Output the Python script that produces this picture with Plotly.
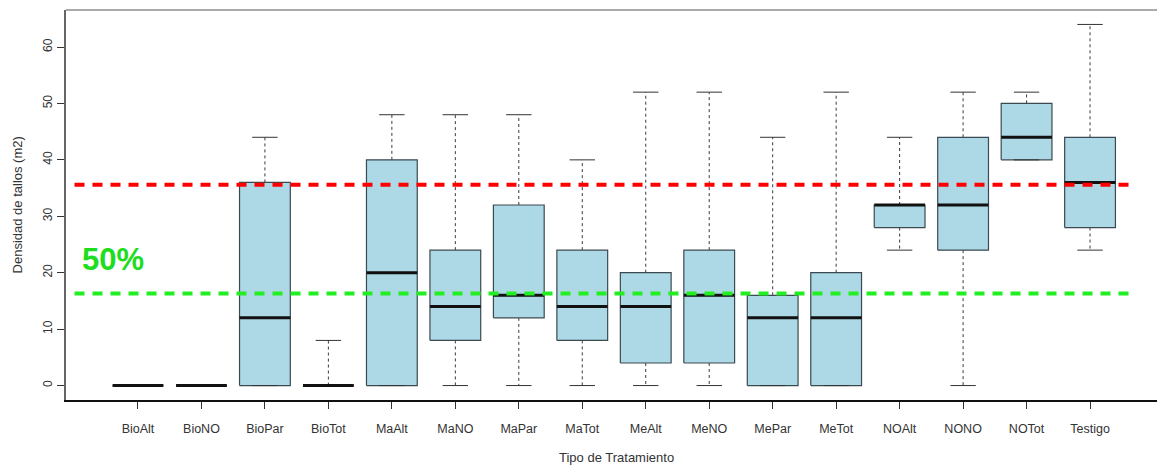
import plotly.graph_objects as go

# Treatments and their box-plot statistics (stems per m2)
categories = ["BioAlt", "BioNO", "BioPar", "BioTot", "MaAlt", "MaNO", "MaPar", "MaTot",
              "MeAlt", "MeNO", "MePar", "MeTot", "NOAlt", "NONO", "NOTot", "Testigo"]
whisker_low = [0, 0, 0, 0, 0, 0, 0, 0, 0, 0, 0, 0, 24, 0, 40, 24]
q1 = [0, 0, 0, 0, 0, 8, 12, 8, 4, 4, 0, 0, 28, 24, 40, 28]
median = [0, 0, 12, 0, 20, 14, 16, 14, 14, 16, 12, 12, 32, 32, 44, 36]
q3 = [0, 0, 36, 0, 40, 24, 32, 24, 20, 24, 16, 20, 32, 44, 50, 44]
whisker_high = [0, 0, 44, 8, 48, 48, 48, 40, 52, 52, 44, 52, 44, 52, 52, 64]

# Reference levels drawn across the chart
upper_level = 35.6
lower_level = 16.3
level_span = [0.0, 16.64]
label_text = "50%"
label_pos = (0.61, 22.3)

y_ticks = [0, 10, 20, 30, 40, 50, 60]

positions = list(range(1, len(categories) + 1))
half_box = 0.4
half_cap = 0.2

FONT = "Liberation Sans, Arial, Helvetica, sans-serif"

box_x, box_y = [], []
wh_x, wh_y = [], []
cap_x, cap_y = [], []
med_x, med_y = [], []
for p, lo, a, m, b, hi in zip(positions, whisker_low, q1, median, q3, whisker_high):
    box_x += [p - half_box, p + half_box, p + half_box, p - half_box, p - half_box, None]
    box_y += [a, a, b, b, a, None]
    if hi > b:
        wh_x += [p, p, None]
        wh_y += [b, hi, None]
    if lo < a:
        wh_x += [p, p, None]
        wh_y += [a, lo, None]
    cap_x += [p - half_cap, p + half_cap, None, p - half_cap, p + half_cap, None]
    cap_y += [hi, hi, None, lo, lo, None]
    med_x += [p - half_box, p + half_box, None]
    med_y += [m, m, None]

fig = go.Figure()
fig.add_trace(go.Scatter(x=wh_x, y=wh_y, mode="lines",
                         line=dict(color="#3a3a3a", width=1, dash="3px,3px"),
                         hoverinfo="skip", showlegend=False))
fig.add_trace(go.Scatter(x=box_x, y=box_y, mode="lines", fill="toself",
                         fillcolor="#ADD8E6", line=dict(color="#3b4a50", width=1.2),
                         hoverinfo="skip", showlegend=False))
fig.add_trace(go.Scatter(x=cap_x, y=cap_y, mode="lines",
                         line=dict(color="#333333", width=1),
                         hoverinfo="skip", showlegend=False))
fig.add_trace(go.Scatter(x=med_x, y=med_y, mode="lines",
                         line=dict(color="#111111", width=3),
                         hoverinfo="skip", showlegend=False))
fig.add_trace(go.Scatter(x=level_span, y=[upper_level, upper_level], mode="lines",
                         line=dict(color="#FF0000", width=4, dash="10px,8px"),
                         hoverinfo="skip", showlegend=False))
fig.add_trace(go.Scatter(x=level_span, y=[lower_level, lower_level], mode="lines",
                         line=dict(color="#22EE22", width=4, dash="10px,8px"),
                         hoverinfo="skip", showlegend=False))

fig.add_annotation(x=label_pos[0], y=label_pos[1], xref="x", yref="y",
                   text=f"<b>{label_text}</b>", showarrow=False,
                   font=dict(family=FONT, size=31, color="#1EDC1E"),
                   xanchor="center", yanchor="middle")

# Axis titles
fig.add_annotation(x=-0.0445, y=0.5, xref="paper", yref="paper",
                   text="Densidad de tallos (m2)", textangle=-90, showarrow=False,
                   font=dict(family=FONT, size=13, color="#333333"),
                   xanchor="center", yanchor="middle")
fig.add_annotation(x=0.505, y=-0.148, xref="paper", yref="paper",
                   text="Tipo de Tratamiento", showarrow=False,
                   font=dict(family=FONT, size=13, color="#333333"),
                   xanchor="center", yanchor="middle")

# Top frame line
fig.add_shape(type="line", xref="paper", yref="paper", x0=0, x1=1, y0=1, y1=1,
              line=dict(color="#aaaaaa", width=2))

fig.update_layout(
    width=1157, height=469,
    margin=dict(l=66, r=0, t=10, b=69),
    paper_bgcolor="white", plot_bgcolor="white",
    showlegend=False,
    font=dict(family=FONT, size=12, color="#333333"),
)
fig.update_xaxes(
    range=[-0.134, 17.055], tickmode="array", tickvals=positions, ticktext=categories,
    showgrid=False, zeroline=False, showline=True, linecolor="#111111", linewidth=1.5,
    ticks="outside", ticklen=7, tickcolor="#333333", tickwidth=1, ticklabelstandoff=9,
    tickfont=dict(family=FONT, size=12.5, color="#333333"),
)
fig.update_yaxes(
    range=[-2.56, 66.56], tickmode="array", tickvals=y_ticks,
    showgrid=False, zeroline=False, showline=True, linecolor="#666666", linewidth=2,
    ticks="outside", ticklen=7, tickcolor="#333333", tickwidth=1, tickangle=-90,
    tickfont=dict(family=FONT, size=12, color="#333333"),
)

fig.write_html("out.html")
